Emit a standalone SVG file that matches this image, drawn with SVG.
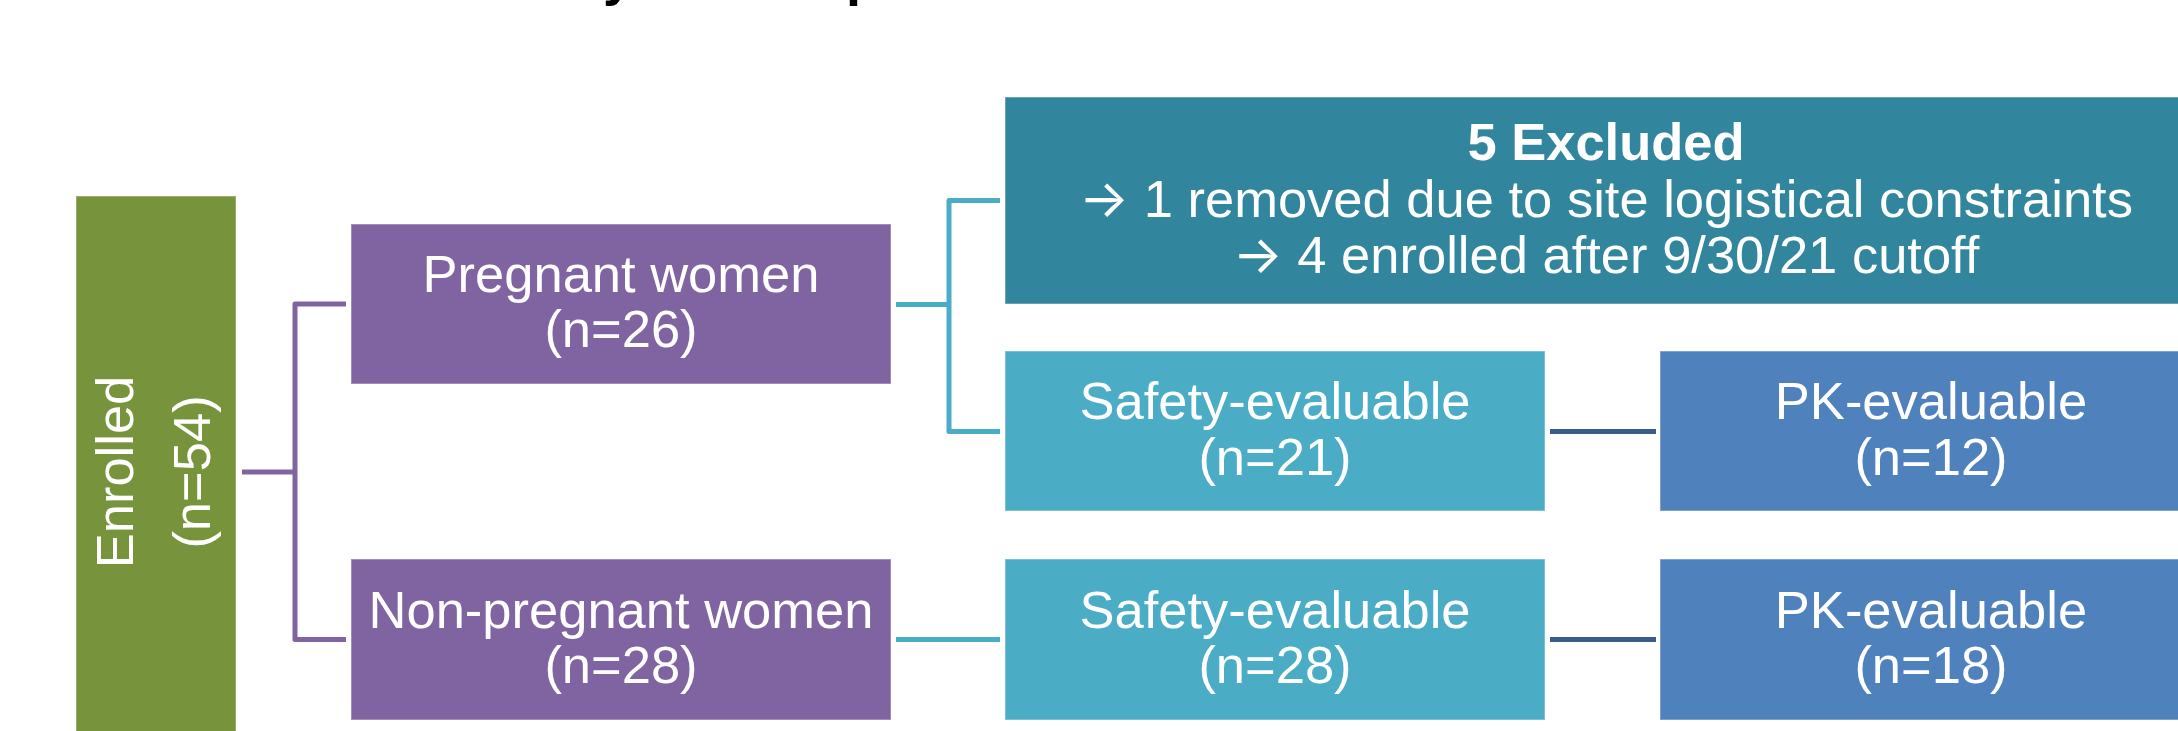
<svg xmlns="http://www.w3.org/2000/svg" width="2178" height="731" viewBox="0 0 2178 731">
  <style>
    .box { stroke: #ffffff; stroke-opacity: 0.35; stroke-width: 1.5; }
    .lbl { font-family: "Liberation Sans", Arial, "DejaVu Sans", sans-serif; font-size: 52.5px; fill: #ffffff; text-anchor: middle; }
    .bold { font-weight: bold; }
    .arrow { font-family: Inter, "DejaVu Sans", sans-serif; font-weight: 400; }
    .title { font-family: "Liberation Sans", Arial, sans-serif; font-size: 54px; font-weight: bold; fill: #000000; }
    .conn { fill: none; stroke-width: 5; stroke-linejoin: round; stroke-linecap: butt; }
    .c-purple { stroke: #8064A2; }
    .c-aqua { stroke: #4BACC6; }
    .c-navy { stroke: #385D8A; }
  </style>

  <rect width="2178" height="731" fill="#ffffff"/>

  <!-- heading above the chart (only its descenders fall inside the page) -->
  <g id="heading">
    <text class="title" x="603" y="-5.5">y</text>
    <text class="title" x="846" y="-5.5">p</text>
  </g>

  <!-- connectors -->
  <g id="connectors">
    <path class="conn c-purple" d="M242,472 H295"/>
    <path class="conn c-purple" d="M346,304 H295 V639.5 H346"/>
    <path class="conn c-aqua" d="M896,304.5 H949"/>
    <path class="conn c-aqua" d="M1000,200.5 H949 V431.5 H1000"/>
    <path class="conn c-aqua" d="M896,639.5 H1000"/>
    <path class="conn c-navy" d="M1550,431.5 H1656"/>
    <path class="conn c-navy" d="M1550,639.5 H1656"/>
  </g>

  <g id="enrolled">
    <rect class="box" x="76" y="196" width="160" height="545" fill="#77933C"/>
    <g transform="translate(0,472) rotate(-90)">
      <text class="lbl" x="0" y="133">Enrolled</text>
      <text class="lbl" x="0" y="210">(n=54)</text>
    </g>
  </g>

  <g id="pregnant">
    <rect class="box" x="351" y="224" width="540" height="160" fill="#8064A2"/>
    <text class="lbl" x="621" y="292">Pregnant women</text>
    <text class="lbl" x="621" y="347">(n=26)</text>
  </g>

  <g id="non-pregnant">
    <rect class="box" x="351" y="559" width="540" height="161" fill="#8064A2"/>
    <text class="lbl" x="621" y="627.5">Non-pregnant women</text>
    <text class="lbl" x="621" y="683">(n=28)</text>
  </g>

  <g id="excluded">
    <rect class="box" x="1005" y="97" width="1202" height="207" fill="#31859C"/>
    <text class="lbl bold" x="1606" y="160">5 Excluded</text>
    <text class="lbl" x="1606" y="216.5"><tspan class="arrow">→</tspan> 1 removed due to site logistical constraints</text>
    <text class="lbl" x="1606" y="273"><tspan class="arrow">→</tspan> 4 enrolled after 9/30/21 cutoff</text>
  </g>

  <g id="safety-pregnant">
    <rect class="box" x="1005" y="351" width="540" height="160" fill="#4BACC6"/>
    <text class="lbl" x="1275" y="419">Safety-evaluable</text>
    <text class="lbl" x="1275" y="475">(n=21)</text>
  </g>

  <g id="pk-pregnant">
    <rect class="box" x="1660" y="351" width="542" height="160" fill="#4F81BD"/>
    <text class="lbl" x="1931" y="419">PK-evaluable</text>
    <text class="lbl" x="1931" y="475">(n=12)</text>
  </g>

  <g id="safety-non-pregnant">
    <rect class="box" x="1005" y="559" width="540" height="161" fill="#4BACC6"/>
    <text class="lbl" x="1275" y="627.5">Safety-evaluable</text>
    <text class="lbl" x="1275" y="683">(n=28)</text>
  </g>

  <g id="pk-non-pregnant">
    <rect class="box" x="1660" y="559" width="542" height="161" fill="#4F81BD"/>
    <text class="lbl" x="1931" y="627.5">PK-evaluable</text>
    <text class="lbl" x="1931" y="683">(n=18)</text>
  </g>
</svg>
